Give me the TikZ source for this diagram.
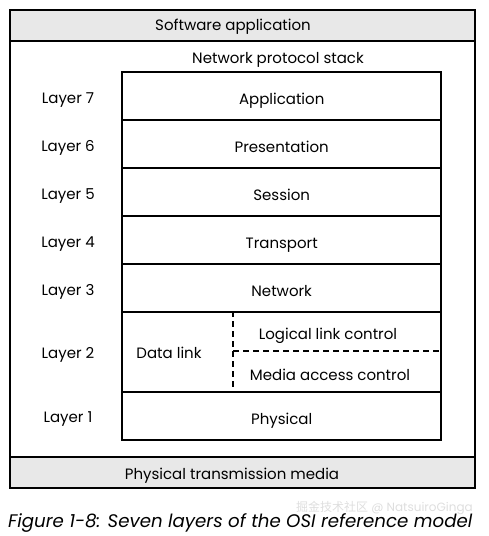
\documentclass[tikz,border=0pt]{standalone}
\usepackage{fontspec}
\setmainfont{Poppins}
\newfontfamily\cjkfont{Noto Sans CJK SC}
\begin{document}
\begin{tikzpicture}[x=1pt,y=-1pt,
  frame/.style={draw=black,line width=2.8pt},
  band/.style={frame,fill=black!9},
  cell/.style={draw=black,line width=2.4pt},
  lbl/.style={font=\fontsize{15}{18}\selectfont,anchor=base,inner sep=0pt},
  sep/.style={draw=black,line width=2.2pt,dash pattern=on 6pt off 4pt}]
\useasboundingbox (0,0) rectangle (488,536);
% outer frame
\node[frame,minimum width=465pt,minimum height=478pt,inner sep=0pt,anchor=north west] (outer) at (8.5,8.5) {};
\node[band,minimum width=465pt,minimum height=31pt,inner sep=0pt,anchor=north west] (sw) at (8.5,8.5) {};
\node[lbl] (swt) at (233,30) {Software application};
\node[band,minimum width=465pt,minimum height=31pt,inner sep=0pt,anchor=north west] (ptm) at (8.5,455.5) {};
\node[lbl] (ptmt) at (232,479) {Physical transmission media};
\node[lbl] (nps) at (278,63) {Network protocol stack};
% stack cells
\foreach \n/\y/\h in {app/71/48, pres/119/48, sess/167/48, trans/215/48, net/263/48, dl/311/80, phy/391/48}{
  \node[cell,minimum width=319pt,minimum height=\h pt,inner sep=0pt,anchor=north west] (\n) at (121,\y) {};
}
\foreach \n/\t in {app/Application, pres/Presentation, sess/Session, trans/Transport, net/Network, phy/Physical}{
  \node[lbl] (\n t) at ([yshift=-8.5pt]\n.center) {\t};
}
\node[lbl] (dlt) at (169,358.5) {Data link};
\coordinate (vtop) at (233,311);
\coordinate (vbot) at (233,391);
\coordinate (hl) at (233,351);
\coordinate (hr) at (440,351);
\draw[sep] (vtop) -- (vbot);
\draw[sep] (hl) -- (hr);
\node[lbl] (llc) at (328,339.5) {Logical link control};
\node[lbl] (mac) at (330,380.5) {Media access control};
% layer labels
\foreach \i/\y in {7/103.5, 6/151.5, 5/199.5, 4/247.5, 3/295.5, 2/358.5, 1/422.5}{
  \node[lbl] (L\i) at (68,\y) {Layer \i};
}
% caption
\node[font=\fontsize{18.2}{21}\selectfont\itshape,anchor=base west,inner sep=0pt] (cap) at (8,527) {Figure 1-8: Seven layers of the OSI reference model};
\node[font=\fontsize{12}{14}\selectfont,text=black!13,anchor=base east,inner sep=0pt] (wm) at (473,511) {{\cjkfont 掘金技术社区} @ NatsuiroGinga};
\end{tikzpicture}
\end{document}
